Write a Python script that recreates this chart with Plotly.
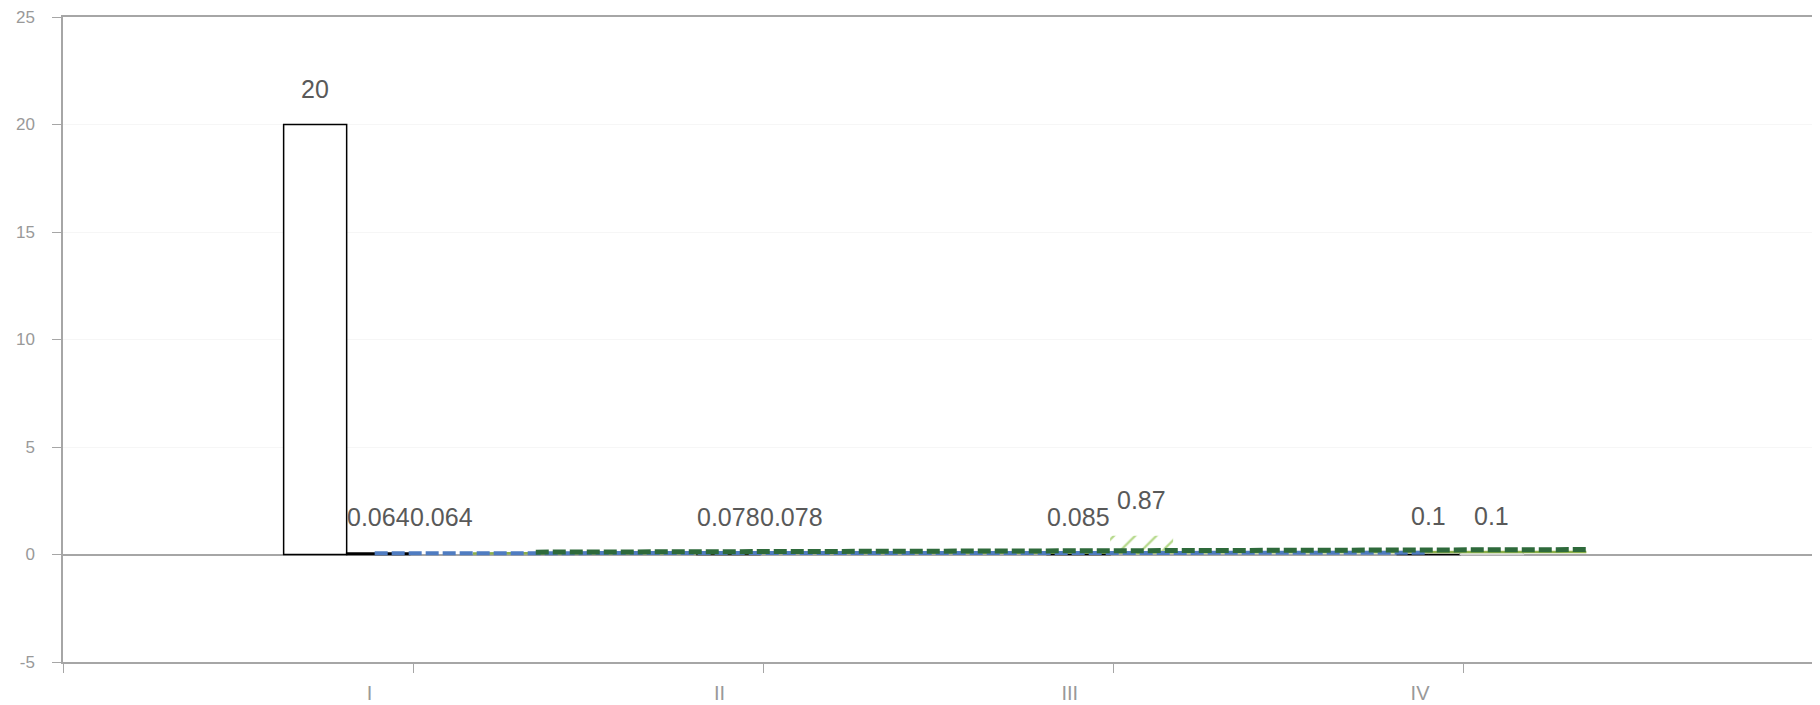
import plotly.graph_objects as go

# ---- data ----
categories = ["I", "II", "III", "IV"]
cat_pos = [1, 2, 3, 4]
label_pos = [0.875, 1.875, 2.875, 3.875]
y_ticks = [-5, 0, 5, 10, 15, 20, 25]
y_ticktext = ["-5", "0", "5", "10", "15", "20", "25"]

series_a = [20, None, None, None]          # white bar, black outline
series_b = [0.064, 0.078, 0.085, 0.1]      # white bar, black outline
series_c = [0.064, 0.078, 0.87, 0.1]       # hatched / light bars

blue_x = [0.89, 1.9, 2.9, 3.9]
blue_y = [0.06, 0.07, 0.075, 0.08]
dkgreen_x = [1.35, 2.35, 3.35, 4.35]
dkgreen_y = [0.11, 0.14, 0.18, 0.23]
ltgreen_x = [1.17, 2.17, 3.17, 4.35]
ltgreen_y = [0.05, 0.07, 0.09, 0.12]

FONT = "Liberation Sans, Arial, sans-serif"
GRAY = "#a6a6a6"
HATCH = "#b5d98a"

fig = go.Figure()

fig.add_trace(go.Scatter(x=ltgreen_x, y=ltgreen_y, mode="lines",
                         line=dict(color="#8db04a", width=2.5), showlegend=False))

W = 0.18
fig.add_trace(go.Bar(x=cat_pos, y=series_a, offset=-0.37, width=W,
                     marker=dict(color="white", line=dict(color="black", width=1.5)),
                     showlegend=False))
fig.add_trace(go.Bar(x=cat_pos, y=series_b, offset=-0.19, width=W,
                     marker=dict(color="white", line=dict(color="black", width=1.5)),
                     showlegend=False))
fig.add_trace(go.Bar(x=cat_pos, y=series_c, offset=-0.01, width=W,
                     marker=dict(color="rgba(255,255,255,0)",
                                 line=dict(color=["rgba(0,0,0,0)", "rgba(0,0,0,0)", "rgba(0,0,0,0)", "#d0d0d0"],
                                           width=1.5),
                                 pattern=dict(shape=["", "", "/", ""], fgcolor=HATCH, fgopacity=1,
                                              fillmode="overlay", size=15, solidity=0.15)),
                     showlegend=False))

fig.add_trace(go.Scatter(x=blue_x, y=blue_y, mode="lines",
                         line=dict(color="#4f7cc1", width=4, dash="13px,4px"), showlegend=False))
fig.add_trace(go.Scatter(x=dkgreen_x, y=dkgreen_y, mode="lines",
                         line=dict(color="#2e6a3b", width=5, dash="13px,4px"), showlegend=False))

annotations = []
for offset, vals in ((-0.28, series_a), (-0.10, series_b), (0.08, series_c)):
    for xp, v in zip(cat_pos, vals):
        if v is None:
            continue
        annotations.append(dict(x=xp + offset, y=v, text=f"{v:g}", showarrow=False,
                                yshift=36, font=dict(size=25, color="#595959", family=FONT)))

fig.update_layout(
    width=1820, height=705,
    margin=dict(l=55, r=14, t=9, b=51),
    paper_bgcolor="white", plot_bgcolor="white",
    barmode="overlay",
    annotations=annotations,
    font=dict(family=FONT),
)
fig.update_xaxes(
    range=[0, 5], showgrid=False, zeroline=False, automargin=False,
    showline=True, linecolor=GRAY, linewidth=1.5, mirror=True,
    tickvals=label_pos, ticktext=categories,
    ticks="outside", ticklen=9, tickcolor="rgba(0,0,0,0)",
    ticklabelstandoff=3,
    tickfont=dict(size=20, color="#999999", family=FONT),
    minor=dict(tickvals=[0, 1, 2, 3, 4, 5], ticks="outside", ticklen=9,
               tickcolor=GRAY, tickwidth=1, showgrid=False),
)
fig.update_yaxes(
    range=[-5, 25], tickvals=y_ticks, ticktext=y_ticktext, automargin=False,
    ticklabeloverflow="allow",
    showgrid=True, gridcolor="#f6f6f6", gridwidth=1,
    zeroline=True, zerolinecolor=GRAY, zerolinewidth=1.5,
    showline=True, linecolor=GRAY, linewidth=1.5,
    ticks="outside", ticklen=9, tickcolor=GRAY,
    ticklabelstandoff=14,
    tickfont=dict(size=17, color="#999999", family=FONT),
)

fig.write_html("out.html")
